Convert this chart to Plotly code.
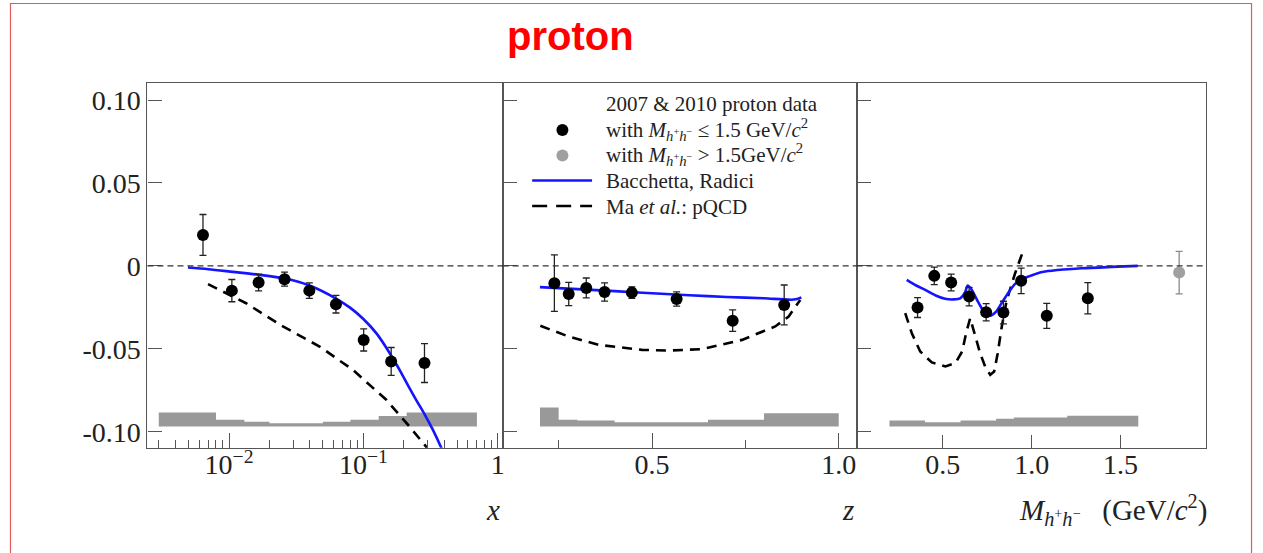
import plotly.graph_objects as go

W, H = 1263, 553

# ---------------- data ----------------
# left panel: x
x_bins = [0.0064, 0.0105, 0.0166, 0.0259, 0.0396, 0.0625, 0.1005, 0.161, 0.285]
a_x = [0.0187, -0.0149, -0.0100, -0.0080, -0.0149, -0.0231, -0.0446, -0.0576, -0.0586]
e_x = [0.0123, 0.0067, 0.0050, 0.0042, 0.0047, 0.0053, 0.0067, 0.0084, 0.0117]
br_x = [0.00495, 0.007, 0.0107, 0.0166, 0.026, 0.0397, 0.063, 0.08, 0.1, 0.126, 0.161, 0.19, 0.22, 0.25, 0.285, 0.33, 0.377, 0.39]
br_xy = [-0.0010, -0.0020, -0.0036, -0.0053, -0.0076, -0.0118, -0.0198, -0.0253, -0.0320, -0.0410, -0.0540, -0.0640, -0.0735, -0.0815, -0.0893, -0.0990, -0.1090, -0.1118]
ma_x = [0.00698, 0.0134, 0.0252, 0.0472, 0.0836, 0.148, 0.22, 0.292, 0.30]
ma_xy = [-0.0110, -0.0225, -0.0365, -0.0486, -0.0627, -0.0807, -0.0968, -0.1088, -0.1110]
sys_x_edges = [0.003, 0.008, 0.013, 0.02, 0.032, 0.05, 0.08, 0.13, 0.21, 0.7]
sys_x_top = [-0.0884, -0.0928, -0.0940, -0.0948, -0.0948, -0.0940, -0.0928, -0.0905, -0.0884]

# middle panel: z
z_bins = [0.2386, 0.277, 0.324, 0.373, 0.446, 0.566, 0.716, 0.854]
a_z = [-0.0104, -0.0169, -0.0133, -0.0157, -0.0161, -0.0199, -0.0330, -0.0235]
e_z = [0.0170, 0.0070, 0.0060, 0.0055, 0.0035, 0.0043, 0.0065, 0.0120]
br_z = [0.2, 0.3, 0.4, 0.5, 0.6, 0.7, 0.8, 0.88, 0.9]
br_zy = [-0.0128, -0.0140, -0.0152, -0.0165, -0.0177, -0.0187, -0.0195, -0.0203, -0.0190]
ma_z = [0.201, 0.277, 0.357, 0.473, 0.545, 0.634, 0.741, 0.83, 0.866, 0.897]
ma_zy = [-0.0361, -0.0426, -0.0476, -0.0506, -0.0510, -0.0502, -0.0446, -0.0365, -0.0305, -0.0205]
sys_z_edges = [0.2, 0.25, 0.3, 0.4, 0.65, 0.8, 1.0]
sys_z_top = [-0.0853, -0.0928, -0.0932, -0.0942, -0.0928, -0.0888]

# right panel: M_h+h-
m_bins = [0.358, 0.452, 0.547, 0.648, 0.744, 0.841, 0.941, 1.085, 1.316]
a_m = [-0.0251, -0.0060, -0.0100, -0.0185, -0.0279, -0.0281, -0.0090, -0.0301, -0.0195]
e_m = [0.0060, 0.0053, 0.0050, 0.0056, 0.0052, 0.0068, 0.0077, 0.0075, 0.0094]
m_hi = [1.830]
a_m_hi = [-0.0040]
e_m_hi = [0.0128]
br_m = [0.297, 0.35, 0.401, 0.46, 0.513, 0.56, 0.600, 0.625, 0.640, 0.66, 0.70, 0.735, 0.767, 0.80, 0.832, 0.87, 0.907, 0.95, 0.982, 1.03, 1.076, 1.18, 1.282, 1.45, 1.597]
br_my = [-0.0084, -0.0118, -0.0145, -0.0178, -0.0198, -0.0202, -0.0194, -0.0160, -0.0118, -0.0140, -0.0220, -0.0280, -0.0300, -0.0275, -0.0222, -0.0160, -0.0108, -0.0078, -0.0064, -0.0045, -0.0034, -0.0022, -0.0014, -0.0006, 0.0]
ma_m = [0.2885, 0.3257, 0.3729, 0.4381, 0.515, 0.571, 0.609, 0.631, 0.654, 0.678, 0.710, 0.738, 0.767, 0.789, 0.809, 0.832, 0.860, 0.907, 0.954]
ma_my = [-0.0285, -0.0406, -0.0516, -0.0582, -0.0606, -0.0586, -0.0516, -0.0406, -0.0315, -0.0406, -0.0526, -0.0606, -0.0657, -0.0637, -0.0526, -0.0365, -0.0205, -0.0044, 0.0096]
sys_m_edges = [0.2, 0.4, 0.6, 0.8, 0.9, 1.2, 1.6]
sys_m_top = [-0.0932, -0.0942, -0.0932, -0.0922, -0.0914, -0.0904]
sys_base = -0.0968

y_ticks = [-0.10, -0.05, 0.0, 0.05, 0.10]
y_ticktext = ["-0.10", "-0.05", "0", "0.05", "0.10"]

# ---------------- styling ----------------
SERIF = "Liberation Serif, Times New Roman, serif"
AX = "#555555"
BLUE = "#1414ff"
GRAY = "#999999"
DASH = "10px,7px"


def px(xp):
    return xp / W


def py(yp):
    return 1 - yp / H


def step_poly(edges, tops, base):
    xs, ys = [edges[0]], [base]
    for i, t in enumerate(tops):
        xs += [edges[i], edges[i + 1]]
        ys += [t, t]
    xs.append(edges[-1])
    ys.append(base)
    return xs, ys


fig = go.Figure()

panels = [
    ("x", "y", sys_x_edges, sys_x_top, x_bins, a_x, e_x, br_x, br_xy, ma_x, ma_xy),
    ("x2", "y2", sys_z_edges, sys_z_top, z_bins, a_z, e_z, br_z, br_zy, ma_z, ma_zy),
    ("x3", "y3", sys_m_edges, sys_m_top, m_bins, a_m, e_m, br_m, br_my, ma_m, ma_my),
]

for xa, ya, ed, tp, xb, av, ev, bx, by, mx, my in panels:
    sx, sy = step_poly(ed, tp, sys_base)
    fig.add_trace(go.Scatter(x=sx, y=sy, xaxis=xa, yaxis=ya, mode="lines",
                             fill="toself", fillcolor=GRAY, line=dict(width=0, color=GRAY),
                             showlegend=False, hoverinfo="skip"))
    fig.add_trace(go.Scatter(x=mx, y=my, xaxis=xa, yaxis=ya, mode="lines",
                             line=dict(color="black", width=2.6, dash=DASH),
                             showlegend=False))
    fig.add_trace(go.Scatter(x=bx, y=by, xaxis=xa, yaxis=ya, mode="lines",
                             line=dict(color=BLUE, width=2.6, shape="spline", smoothing=0.8),
                             showlegend=False))
    fig.add_trace(go.Scatter(x=xb, y=av, xaxis=xa, yaxis=ya, mode="markers",
                             marker=dict(color="black", size=12),
                             error_y=dict(type="data", array=ev, color="#222222", thickness=1.3, width=3.5),
                             showlegend=False))

fig.add_trace(go.Scatter(x=m_hi, y=a_m_hi, xaxis="x3", yaxis="y3", mode="markers",
                         marker=dict(color="#a0a0a0", size=12),
                         error_y=dict(type="data", array=e_m_hi, color="#8a8a8a", thickness=1.3, width=3.5),
                         showlegend=False))

# ---------------- axes ----------------
y_top, y_bot = 83.3, 447.7
ydom = [py(y_bot), py(y_top)]
doms = [[px(147.7), px(503.5)], [px(503.5), px(858.0)], [px(858.0), px(1208.0)]]

TICKFONT = dict(family=SERIF, size=28, color="#222222")
common_x = dict(showline=True, linecolor=AX, linewidth=1.2, mirror=True, ticks="inside",
                tickcolor=AX, tickwidth=1.2, ticklen=15, showgrid=False, zeroline=False,
                tickfont=TICKFONT, tickmode="array", ticklabelstandoff=-8)
common_y = dict(showline=True, linecolor=AX, linewidth=1.2, mirror=True, ticks="inside",
                tickcolor=AX, tickwidth=1.2, ticklen=14, showgrid=False, zeroline=False,
                range=[-0.1096, 0.1101], tickmode="array", tickvals=y_ticks, ticktext=y_ticktext,
                tickfont=TICKFONT)

fig.update_layout(
    width=W, height=H, margin=dict(l=0, r=0, t=0, b=0),
    font=dict(family=SERIF, size=20, color="#222222"),
    paper_bgcolor="white", plot_bgcolor="white", showlegend=False,
    xaxis=dict(common_x, domain=doms[0], type="log", range=[-2.607, 0.037], anchor="y",
               tickvals=[0.01, 0.1, 1], ticktext=["10<sup>\u22122</sup>", "10<sup>\u22121</sup>", "1"],
               minor=dict(tickmode="array", ticks="inside", ticklen=8, tickcolor=AX, tickwidth=1.2,
                          tickvals=[0.003, 0.004, 0.005, 0.006, 0.007, 0.008, 0.009,
                                    0.02, 0.03, 0.04, 0.05, 0.06, 0.07, 0.08, 0.09,
                                    0.2, 0.3, 0.4, 0.5, 0.6, 0.7, 0.8, 0.9])),
    xaxis2=dict(common_x, domain=doms[1], range=[0.1002, 1.048], anchor="y2",
                tickvals=[0.5, 1.0], ticktext=["0.5", "1.0"],
                minor=dict(tickmode="array", ticks="inside", ticklen=8, tickcolor=AX, tickwidth=1.2,
                           tickvals=[0.25, 0.75])),
    xaxis3=dict(common_x, domain=doms[2], range=[0.0152, 1.9815], anchor="y3",
                tickvals=[0.5, 1.0, 1.5], ticktext=["0.5", "1.0", "1.5"], ticklen=13),
    yaxis=dict(common_y, domain=ydom, anchor="x", showticklabels=True),
    yaxis2=dict(common_y, domain=ydom, anchor="x2", showticklabels=False),
    yaxis3=dict(common_y, domain=ydom, anchor="x3", showticklabels=False),
)

shapes = []
for xa, ya in [("x", "y"), ("x2", "y2"), ("x3", "y3")]:
    shapes.append(dict(type="line", xref=xa + " domain", yref=ya, x0=0, x1=1, y0=0, y1=0,
                       line=dict(color="#333333", width=1.2, dash="6px,4px"), layer="above"))

# legend symbols (middle panel)
shapes.append(dict(type="circle", xref="paper", yref="paper", xsizemode="pixel", ysizemode="pixel",
                   xanchor=px(563.3), yanchor=py(130), x0=-6, x1=6, y0=-6, y1=6,
                   fillcolor="black", line=dict(width=0)))
shapes.append(dict(type="circle", xref="paper", yref="paper", xsizemode="pixel", ysizemode="pixel",
                   xanchor=px(563.3), yanchor=py(155.5), x0=-6, x1=6, y0=-6, y1=6,
                   fillcolor="#a0a0a0", line=dict(width=0)))
shapes.append(dict(type="line", xref="paper", yref="paper", x0=px(533), x1=px(593), y0=py(180.5), y1=py(180.5),
                   line=dict(color=BLUE, width=2.6)))
shapes.append(dict(type="line", xref="paper", yref="paper", x0=px(533), x1=px(593), y0=py(206), y1=py(206),
                   line=dict(color="black", width=2.6, dash="15px,9px")))
# red frame of the slide
shapes.append(dict(type="rect", xref="paper", yref="paper", x0=px(10.5), x1=px(1253.5), y0=-0.02, y1=py(3.5),
                   line=dict(color="#e05a5a", width=1.2), fillcolor="rgba(0,0,0,0)", layer="below"))

annotations = []
leg_font = dict(family=SERIF, size=21, color="#222222")
leg_lines = [
    (104, "2007 &amp; 2010 proton data"),
    (129, "with <i>M</i><sub><i>h</i><sup>+</sup><i>h</i><sup>\u2212</sup></sub> \u2264 1.5 GeV/<i>c</i><sup>2</sup>"),
    (155, "with <i>M</i><sub><i>h</i><sup>+</sup><i>h</i><sup>\u2212</sup></sub> &gt; 1.5GeV/<i>c</i><sup>2</sup>"),
    (181, "Bacchetta, Radici"),
    (206.5, "Ma <i>et al.</i>: pQCD"),
]
for yy, txt in leg_lines:
    annotations.append(dict(xref="paper", yref="paper", x=px(605), y=py(yy), xanchor="left", yanchor="middle",
                            text=txt, showarrow=False, font=leg_font))

annotations.append(dict(xref="paper", yref="paper", x=px(571), y=py(36), xanchor="center", yanchor="middle",
                        text="<b>proton</b>", showarrow=False,
                        font=dict(family="Liberation Sans, Arial, sans-serif", size=40, color="#ff0000")))

ax_font = dict(family=SERIF, size=29, color="#222222")
annotations.append(dict(xref="paper", yref="paper", x=px(503), y=py(510), xanchor="right", yanchor="middle",
                        text="<i>x</i>", showarrow=False, font=ax_font))
annotations.append(dict(xref="paper", yref="paper", x=px(857), y=py(510), xanchor="right", yanchor="middle",
                        text="<i>z</i>", showarrow=False, font=ax_font))
annotations.append(dict(xref="paper", yref="paper", x=px(1211), y=py(510), xanchor="right", yanchor="middle",
                        text="<i>M</i><sub><i>h</i><sup>+</sup><i>h</i><sup>\u2212</sup></sub>&nbsp;&nbsp;&nbsp;(GeV/<i>c</i><sup>2</sup>)",
                        showarrow=False, font=ax_font))

fig.update_layout(shapes=shapes, annotations=annotations)

fig.write_html("out.html")
